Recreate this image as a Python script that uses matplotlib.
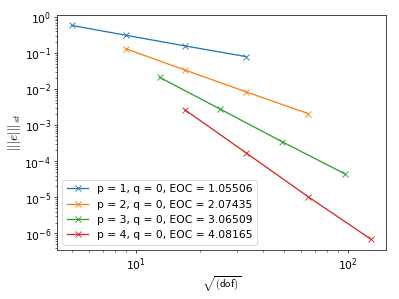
import matplotlib
matplotlib.use("Agg")
import matplotlib.pyplot as plt
from matplotlib.ticker import NullFormatter

plt.rcParams['mathtext.fontset'] = 'cm'
plt.rcParams['font.size'] = 12.5

# sqrt(dof) and error values
sqrt_dof_p1 = [5, 9, 17, 33]
err_p1 = [0.58, 0.31, 0.158, 0.080]

sqrt_dof_p2 = [9, 17, 33, 65]
err_p2 = [0.131, 0.034, 0.0085, 0.0021]

sqrt_dof_p3 = [13, 25, 49, 97]
err_p3 = [0.021, 0.0028, 0.00035, 4.5e-5]

sqrt_dof_p4 = [17, 33, 65, 129]
err_p4 = [0.0027, 1.75e-4, 1.05e-5, 6.9e-7]

labels = ["p = 1, q = 0, EOC = 1.05506",
          "p = 2, q = 0, EOC = 2.07435",
          "p = 3, q = 0, EOC = 3.06509",
          "p = 4, q = 0, EOC = 4.08165"]

fig = plt.figure(figsize=(6.4, 4.8), dpi=399 / 6.4)
ax = fig.add_subplot(111)
fig.subplots_adjust(left=57 / 399, right=386 / 399, top=1 - 15 / 299, bottom=1 - 250 / 299)

ax.loglog(sqrt_dof_p1, err_p1, 'x-', label=labels[0])
ax.loglog(sqrt_dof_p2, err_p2, 'x-', label=labels[1])
ax.loglog(sqrt_dof_p3, err_p3, 'x-', label=labels[2])
ax.loglog(sqrt_dof_p4, err_p4, 'x-', label=labels[3])

# no labels on the minor ticks
ax.xaxis.set_minor_formatter(NullFormatter())
ax.yaxis.set_minor_formatter(NullFormatter())

ax.set_xlabel(r'$\sqrt{(\mathsf{dof})}$', labelpad=2)
ax.set_ylabel(r'$|||e|||_{st}$', fontsize=15, labelpad=2)
ax.legend(loc='lower left')

fig.savefig("out.png", dpi=399 / 6.4)
